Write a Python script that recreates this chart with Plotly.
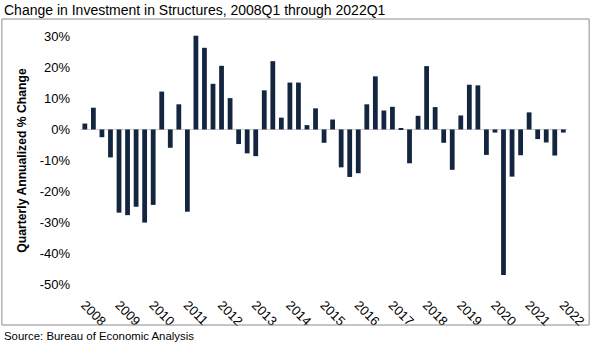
import plotly.graph_objects as go

title_text = "Change in Investment in Structures, 2008Q1 through 2022Q1"
y_title = "Quarterly Annualized % Change"
source_text = "Source: Bureau of Economic Analysis"

quarters = [f"{y}Q{q}" for y in range(2008, 2023) for q in range(1, 5)][:57]
values = [
    1.9, 7.0, -2.5, -9.0,
    -26.8, -27.6, -24.9, -30.0,
    -24.3, 12.2, -5.9, 8.1,
    -26.5, 30.2, 26.3, 14.7,
    20.5, 10.1, -4.7, -7.7,
    -8.6, 12.6, 22.0, 3.8,
    15.1, 15.1, 1.4, 6.8,
    -4.3, 3.2, -12.2, -15.3,
    -14.1, 8.1, 17.1, 6.1,
    7.3, 0.4, -10.9, 4.4,
    20.4, 7.2, -4.3, -13.0,
    4.5, 14.4, 14.2, -8.2,
    -1.0, -46.9, -15.2, -8.3,
    5.5, -3.1, -4.2, -8.4,
    -1.0,
]
year_labels = [str(y) for y in range(2008, 2023)]
y_ticks = [30, 20, 10, 0, -10, -20, -30, -40, -50]

x_idx = list(range(len(values)))
year_pos = [i for i, q in enumerate(quarters) if q.endswith("Q1")]

FONT = "Liberation Sans, Arial, sans-serif"
L, R, T, B = 78, 20, 27, 51
W, H = 600, 345
pw, ph = W - L - R, H - T - B

def px_to_paper_x(px):
    return (px - L) / pw

def px_to_paper_y(py):
    return (H - B - py) / ph

fig = go.Figure()
fig.add_trace(go.Bar(
    x=x_idx, y=values,
    marker=dict(color="#13253f", line=dict(width=0)),
    hovertemplate="%{customdata}: %{y:.1f}%<extra></extra>",
    customdata=quarters,
))

fig.update_layout(
    width=W, height=H,
    margin=dict(l=L, r=R, t=T, b=B),
    paper_bgcolor="white", plot_bgcolor="white",
    bargap=0.44,
    showlegend=False,
    font=dict(family=FONT, color="#000000", size=12),
    xaxis=dict(
        range=[-0.8, 56.9],
        tickmode="array", tickvals=year_pos, ticktext=year_labels,
        tickangle=45, showgrid=False, zeroline=False, showline=False,
        ticks="", tickfont=dict(size=13, family=FONT),
    ),
    yaxis=dict(
        range=[-53, 33],
        tickmode="array", tickvals=y_ticks,
        ticktext=[f"{v}%" for v in y_ticks],
        showgrid=False, zeroline=False, showline=False, ticks="",
        ticklabelstandoff=7,
        tickfont=dict(size=13, family=FONT),
        title=dict(text=f"<b>{y_title}</b>", font=dict(size=12.2, family=FONT), standoff=10),
    ),
)

# zero line
fig.add_shape(type="line", xref="paper", yref="y",
              x0=px_to_paper_x(80.5), x1=px_to_paper_x(576), y0=0, y1=0,
              line=dict(color="#c8c8c8", width=1), layer="below")

# chart border
fig.add_shape(type="rect", xref="paper", yref="paper",
              x0=px_to_paper_x(0.5), x1=px_to_paper_x(598.5),
              y0=px_to_paper_y(325), y1=px_to_paper_y(19),
              line=dict(color="#8c8c8c", width=1), fillcolor="rgba(0,0,0,0)")

fig.add_annotation(text=title_text, xref="paper", yref="paper",
                   x=px_to_paper_x(1), y=px_to_paper_y(0), xanchor="left", yanchor="top",
                   showarrow=False, font=dict(size=14, family=FONT, color="#000"))
fig.add_annotation(text=source_text, xref="paper", yref="paper",
                   x=px_to_paper_x(1), y=px_to_paper_y(336), xanchor="left", yanchor="middle",
                   showarrow=False, font=dict(size=11.4, family=FONT, color="#000"))

fig.write_html("out.html")
